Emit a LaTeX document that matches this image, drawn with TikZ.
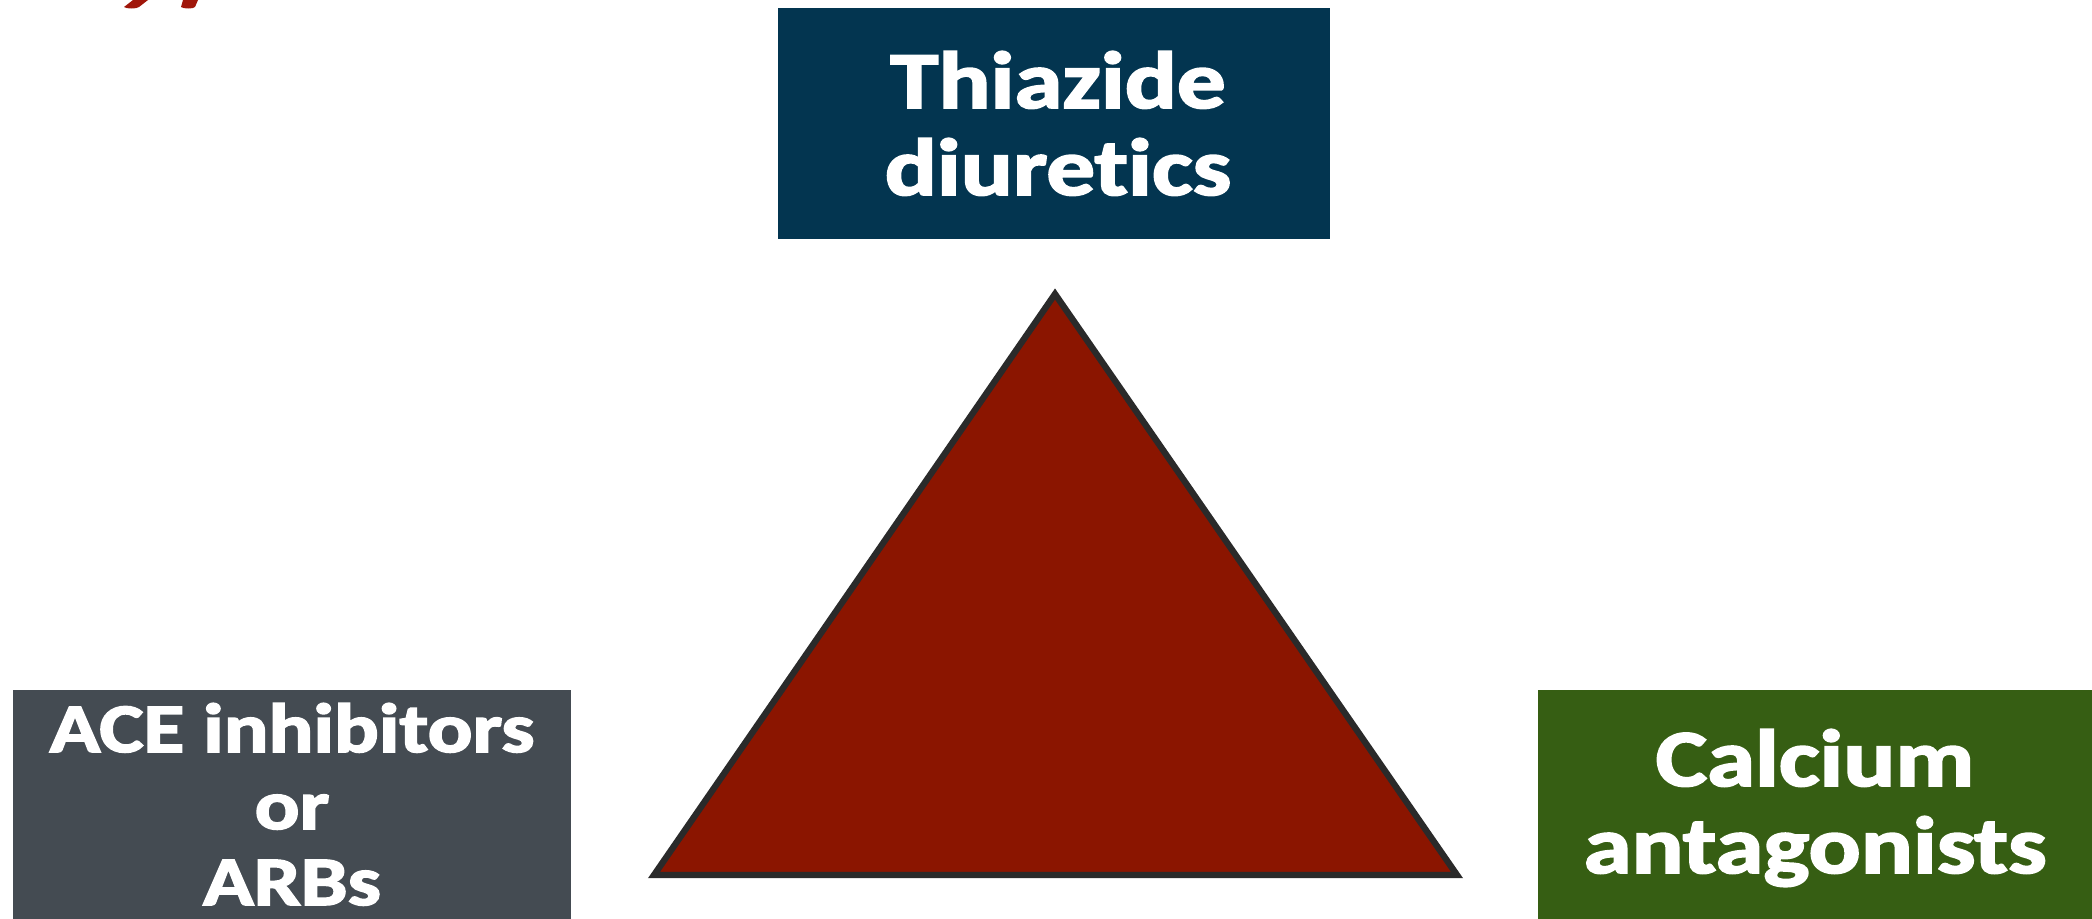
\documentclass[tikz,border=0pt]{standalone}
\usepackage{fontspec}
\setmainfont{Carlito}[Ligatures={NoCommon,NoContextual},BoldFeatures={FakeBold=2.2}]
\definecolor{navybox}{RGB}{3,53,80}
\definecolor{slatebox}{RGB}{68,75,82}
\definecolor{greenbox}{RGB}{54,94,19}
\definecolor{trired}{RGB}{139,21,0}
\definecolor{triedge}{RGB}{42,42,42}
\definecolor{titlered}{RGB}{160,22,10}
\tikzset{
  boxshape/.style={anchor=north west, inner sep=0pt, outer sep=0pt, draw=none},
  biglbl/.style={anchor=base, inner sep=0pt, text=white, font=\fontsize{23}{27}\selectfont\bfseries},
  smalllbl/.style={anchor=base, inner sep=0pt, text=white, font=\fontsize{19.8}{23}\selectfont\bfseries},
}
\newcommand{\wide}[1]{\scalebox{1.2}[1]{#1}}
\begin{document}
\begin{tikzpicture}[x=0.01cm,y=-0.01cm]
\useasboundingbox (0,0) rectangle (2092,918);
\fill[white] (0,0) rectangle (2092,918);
\clip (0,0) rectangle (2092,918);
% title fragments (cut-off descenders)
\fill[titlered] (133,0) -- (148,0) -- (139,7) .. controls (137,9) and (126,9) .. (124,7) -- cycle;
\fill[titlered] (183,0) -- (198,0) -- (195,7) .. controls (194,9) and (183,9) .. (181,7) -- cycle;
% boxes
\node[boxshape, fill=navybox, minimum width=5.52cm, minimum height=2.31cm] (thz) at (778,8) {};
\node[boxshape, fill=slatebox, minimum width=5.58cm, minimum height=2.6cm] (ace) at (13,690) {};
\node[boxshape, fill=greenbox, minimum width=5.7cm, minimum height=2.6cm] (cal) at (1538,690) {};
% labels
\node[biglbl] (thz1) at (1058,108) {\wide{Thiazide}};
\node[biglbl] (thz2) at (1058,195) {\wide{diuretics}};
\node[smalllbl] (ace1) at (292,752) {\wide{ACE inhibitors}};
\node[smalllbl] (ace2) at (292,829) {\wide{or}};
\node[smalllbl] (ace3) at (292,905) {\wide{ARBs}};
\node[biglbl] (cal1) at (1815,786) {\wide{Calcium}};
\node[biglbl] (cal2) at (1815,873) {\wide{antagonists}};
% triangle
\coordinate (apex) at (1055,294);
\coordinate (bl) at (654,875);
\coordinate (br) at (1457,875);
\filldraw[fill=trired, draw=triedge, line width=1.8pt, line join=miter] (apex) -- (bl) -- (br) -- cycle;
\end{tikzpicture}
\end{document}
